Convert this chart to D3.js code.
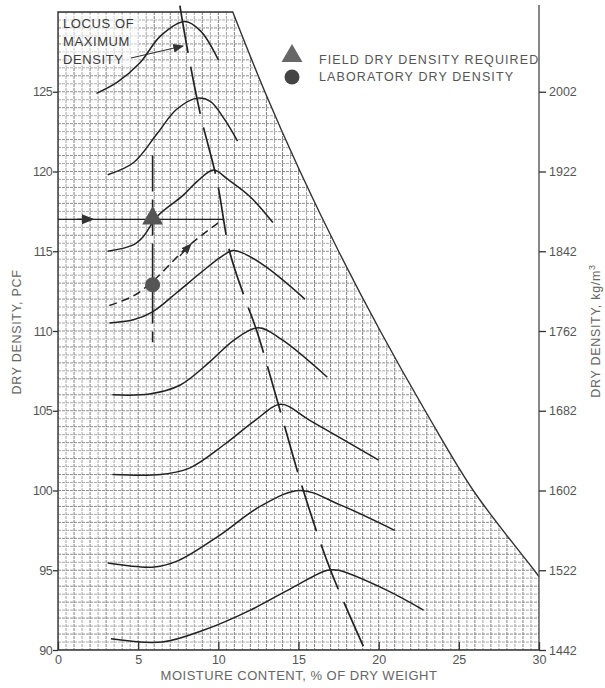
<!doctype html>
<html>
<head>
<meta charset="utf-8">
<title>Moisture - Density Relations</title>
<script src="https://d3js.org/d3.v7.min.js"></script>
<style>
  body { margin: 0; background: #fff; }
  text { font-family: "Liberation Sans", Arial, sans-serif; }
</style>
</head>
<body>
<script>
// moisture content (%) , dry density (pcf)
var curve1 = [[2.4,124.9],[3.7,125.6],[5.1,126.8],[6.4,128.5],[7.9,129.4],[8.9,128.8],[10.0,127.0]];
var curve2 = [[3.1,119.8],[4.7,120.55],[6.2,122.4],[7.4,123.9],[8.7,124.6],[9.5,124.4],[10.4,123.25],[11.2,121.9]];
var curve3 = [[3.1,115.0],[4.7,115.4],[5.3,115.9],[6.2,117.2],[7.8,118.5],[8.7,119.4],[9.7,120.1],[10.6,119.5],[12.0,118.4],[13.4,116.8]];
var curve4 = [[3.2,110.5],[4.7,110.7],[5.9,111.2],[7.4,112.4],[8.9,113.65],[10.1,114.6],[10.9,115.05],[11.5,114.9],[13.0,114.0],[15.4,112.0]];
var curve5 = [[3.4,106.0],[5.7,106.05],[7.6,106.6],[9.5,108.1],[11.0,109.45],[12.5,110.2],[13.9,109.5],[16.8,107.1]];
var curve6 = [[3.4,101.0],[6.4,101.0],[8.2,101.4],[10.4,102.9],[12.3,104.4],[13.9,105.4],[15.7,104.4],[20.0,101.9]];
var curve7 = [[3.1,95.45],[6.0,95.2],[7.5,95.6],[10.1,97.2],[12.6,99.0],[15.1,100.0],[17.6,99.1],[21.0,97.5]];
var curve8 = [[3.3,90.7],[6.5,90.5],[9.1,91.25],[12.0,92.5],[14.6,93.9],[16.8,95.0],[17.5,95.0],[20.4,93.8],[22.8,92.5]];
var labCurve = [[3.2,111.6],[4.7,112.2],[6.0,113.2],[8.1,115.3],[10.3,117.0]];
var locusLine = [[7.6,130.4],[8.1,127.5],[8.9,123.5],[9.9,119.5],[10.7,115],[11.6,112.2],[12.4,110],[13.8,105.2],[15.3,100],[17.0,95],[19.15,90]];
var zavLine = [[10.9,130],[12.9,125],[15.1,120],[17.5,115],[20.1,110],[22.9,105],[25.9,100],[29.7,95],[30,94.6]];
var fieldPoint = [5.9, 117];
var labPoint = [5.9, 112.9];
var fieldLine = [[0,117],[10.3,117]];
var checkLine = [[5.9,121],[5.9,109.3]];

var xTicks = [0,5,10,15,20,25,30];
var yTicks = [90,95,100,105,110,115,120,125];
var kgTicks = [1442,1522,1602,1682,1762,1842,1922,2002];

var width = 605, height = 688;
var x = d3.scaleLinear().domain([0,30]).range([58,539]);
var y = d3.scaleLinear().domain([90,130]).range([650,12]);
var yKg = d3.scaleLinear().domain([1442,2082]).range([650,12]);

var svg = d3.select("body").append("svg")
    .attr("width", width)
    .attr("height", height);

var defs = svg.append("defs");
defs.append("marker")
    .attr("id", "arrow")
    .attr("viewBox", "0 0 10 10")
    .attr("refX", 9).attr("refY", 5)
    .attr("markerWidth", 9).attr("markerHeight", 9)
    .attr("orient", "auto")
  .append("path")
    .attr("d", "M0,1 L10,5 L0,9 Z")
    .attr("fill", "#333");

var line = d3.line()
    .x(function(d) { return x(d[0]); })
    .y(function(d) { return y(d[1]); });
var smooth = d3.line()
    .x(function(d) { return x(d[0]); })
    .y(function(d) { return y(d[1]); })
    .curve(d3.curveCatmullRom.alpha(0.5));

// grid area: everything left of the zero air voids line
var zavPath = smooth(zavLine);
var clipD = "M" + x(30) + "," + y(90) + "L" + x(0) + "," + y(90) + "L" + x(0) + "," + y(130) +
    "L" + zavPath.slice(1) + "L" + x(30) + "," + y(90) + "Z";
defs.append("clipPath").attr("id", "gridClip")
  .append("path")
    .attr("d", clipD);

var grid = svg.append("g").attr("clip-path", "url(#gridClip)");
grid.selectAll("line.v")
    .data(d3.range(0, 30.01, 0.5))
    .enter().append("line")
    .attr("x1", function(d) { return x(d); })
    .attr("x2", function(d) { return x(d); })
    .attr("y1", y(130)).attr("y2", y(90))
    .attr("stroke", function(d, i) { return i % 2 ? "#9a9a9a" : "#707070"; })
    .attr("stroke-width", 0.9)
    .attr("stroke-dasharray", "3,1");
grid.selectAll("line.h")
    .data(d3.range(90, 130.01, 0.5))
    .enter().append("line")
    .attr("y1", function(d) { return y(d); })
    .attr("y2", function(d) { return y(d); })
    .attr("x1", x(0)).attr("x2", x(30))
    .attr("stroke", function(d, i) { return i % 2 ? "#a0a0a0" : "#808080"; })
    .attr("stroke-width", 0.9)
    .attr("stroke-dasharray", "3,1");

// frame
svg.append("path")
    .attr("d", "M" + x(0) + "," + y(90) + "L" + x(0) + "," + y(130) + "L" + zavPath.slice(1))
    .attr("fill", "none").attr("stroke", "#333").attr("stroke-width", 1.4);
svg.append("line")
    .attr("x1", x(0)).attr("x2", x(30)).attr("y1", y(90)).attr("y2", y(90))
    .attr("stroke", "#333").attr("stroke-width", 1.6);
svg.append("line")
    .attr("x1", x(30)).attr("x2", x(30)).attr("y1", 5).attr("y2", y(90))
    .attr("stroke", "#555").attr("stroke-width", 1.4);

// locus label
svg.append("rect")
    .attr("x", 61).attr("y", 14).attr("width", 78).attr("height", 52)
    .attr("fill", "#fff").attr("opacity", 0.55);
var locus = svg.append("text")
    .attr("x", 63).attr("y", 28)
    .attr("font-size", 13).attr("fill", "#3a3a3a").attr("letter-spacing", 0.6);
["LOCUS OF", "MAXIMUM", "DENSITY"].forEach(function(t, i) {
  locus.append("tspan").attr("x", 63).attr("dy", i ? 18 : 0).text(t);
});
svg.append("line")
    .attr("x1", 131).attr("y1", 58).attr("x2", 183).attr("y2", 46)
    .attr("stroke", "#333").attr("stroke-width", 1.2)
    .attr("marker-end", "url(#arrow)");

// compaction curves
var curves = [curve1, curve2, curve3, curve4, curve5, curve6, curve7, curve8];
svg.selectAll("path.curve")
    .data(curves)
    .enter().append("path")
    .attr("class", "curve")
    .attr("d", smooth)
    .attr("fill", "none")
    .attr("stroke", "#222")
    .attr("stroke-width", 1.5);

svg.append("path")
    .attr("d", smooth(labCurve))
    .attr("fill", "none").attr("stroke", "#222").attr("stroke-width", 1.5)
    .attr("stroke-dasharray", "8,5");
svg.append("line")
    .attr("x1", x(7.6)).attr("y1", y(114.7)).attr("x2", x(8.3)).attr("y2", y(115.45))
    .attr("stroke", "#222").attr("stroke-width", 1.2)
    .attr("marker-end", "url(#arrow)");

// locus of maximum density
svg.append("path")
    .attr("d", smooth(locusLine))
    .attr("fill", "none").attr("stroke", "#222").attr("stroke-width", 1.7)
    .attr("stroke-dasharray", "48,14");

// field density requirement
svg.append("path")
    .attr("d", line(fieldLine))
    .attr("fill", "none").attr("stroke", "#222").attr("stroke-width", 1.4);
svg.append("line")
    .attr("x1", x(1.2)).attr("y1", y(117)).attr("x2", x(2.2)).attr("y2", y(117))
    .attr("stroke", "#222").attr("stroke-width", 1.4)
    .attr("marker-end", "url(#arrow)");
svg.append("path")
    .attr("d", line(checkLine))
    .attr("fill", "none").attr("stroke", "#222").attr("stroke-width", 1.6)
    .attr("stroke-dasharray", "36,8");

svg.append("path")
    .attr("d", d3.symbol().type(d3.symbolTriangle).size(190)())
    .attr("transform", "translate(" + x(fieldPoint[0]) + "," + (y(fieldPoint[1]) - 1) + ")")
    .attr("fill", "#555");
svg.append("circle")
    .attr("cx", x(labPoint[0])).attr("cy", y(labPoint[1])).attr("r", 7.5)
    .attr("fill", "#555");

// legend
svg.append("path")
    .attr("d", d3.symbol().type(d3.symbolTriangle).size(190)())
    .attr("transform", "translate(292,56)")
    .attr("fill", "#666");
svg.append("circle").attr("cx", 292).attr("cy", 77).attr("r", 7.5).attr("fill", "#444");
svg.append("text").attr("x", 319).attr("y", 64)
    .attr("font-size", 12.5).attr("fill", "#555").attr("letter-spacing", 1.1)
    .text("FIELD DRY DENSITY REQUIRED");
svg.append("text").attr("x", 319).attr("y", 81)
    .attr("font-size", 12.5).attr("fill", "#555").attr("letter-spacing", 1.1)
    .text("LABORATORY DRY DENSITY");

// axes
var leftAxis = svg.append("g")
    .attr("transform", "translate(" + x(0) + ",0)")
    .call(d3.axisLeft(y).tickValues(yTicks).tickSize(5).tickPadding(1));
var rightAxis = svg.append("g")
    .attr("transform", "translate(" + x(30) + ",0)")
    .call(d3.axisRight(yKg).tickValues(kgTicks).tickFormat(d3.format("d")).tickSize(7).tickPadding(3));
var bottomAxis = svg.append("g")
    .attr("transform", "translate(0," + y(90) + ")")
    .call(d3.axisBottom(x).tickValues(xTicks).tickSizeInner(-8).tickSizeOuter(0).tickPadding(5));

[leftAxis, rightAxis, bottomAxis].forEach(function(a) {
  a.select(".domain").remove();
  a.selectAll(".tick line").attr("stroke", "#333").attr("stroke-width", 1.3);
  a.selectAll("text")
      .attr("font-family", "\"Liberation Sans\", Arial, sans-serif")
      .attr("font-size", 12.5).attr("fill", "#555");
});
leftAxis.selectAll("text").attr("letter-spacing", -0.6);

svg.append("text")
    .attr("transform", "translate(21,332) rotate(-90)")
    .attr("text-anchor", "middle")
    .attr("font-size", 12.5).attr("fill", "#666").attr("letter-spacing", 0.7)
    .text("DRY DENSITY, PCF");

var kgTitle = svg.append("text")
    .attr("transform", "translate(600,331) rotate(-90)")
    .attr("text-anchor", "middle")
    .attr("font-size", 12.5).attr("fill", "#666").attr("letter-spacing", 0.7);
kgTitle.append("tspan").text("DRY DENSITY, kg/m");
kgTitle.append("tspan").attr("dy", -5).attr("font-size", 9).text("3");

svg.append("text")
    .attr("x", 299).attr("y", 680)
    .attr("text-anchor", "middle")
    .attr("font-size", 13).attr("fill", "#666").attr("letter-spacing", 0.5)
    .text("MOISTURE CONTENT, % OF DRY WEIGHT");
</script>
</body>
</html>
